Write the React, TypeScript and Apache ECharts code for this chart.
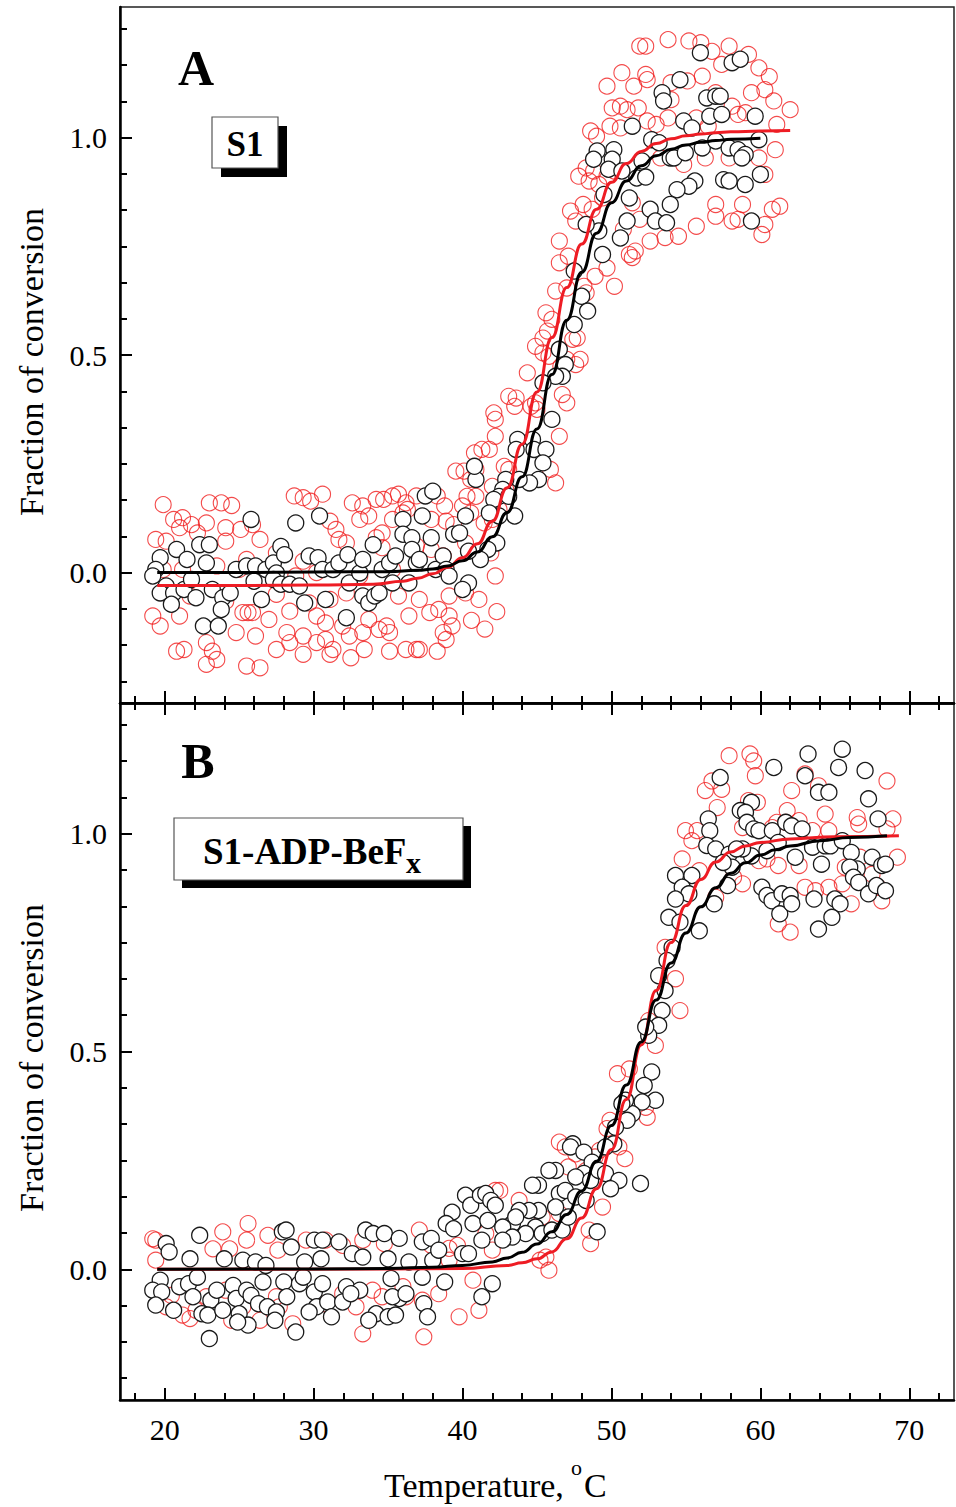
import React, { useEffect, useRef } from "react";
import * as echarts from "echarts";

const FONT = '"Liberation Serif", "Times New Roman", serif';

// Axis ticks
const tempTicks = [20, 30, 40, 50, 60, 70];
const tempMinorTicks = [18, 22, 24, 26, 28, 32, 34, 36, 38, 42, 44, 46, 48, 52, 54, 56, 58, 62, 64, 66, 68, 72];
const fracTicks = [0, 0.5, 1.0];
const fracMinorTicks = [-3, -2, -1, 1, 2, 3, 4, 5, 7, 8, 9, 10, 11, 13, 14, 15].map((k) => k / 12);

// Panel A (S1) - red circles
const aRedPts: [number, number][] = [
  [19.9, 0.156], [23.0, 0.16], [23.8, 0.16], [24.5, 0.154], [28.7, 0.176], [29.3, 0.172], [29.8, 0.164], [30.6, 0.18], [32.6, 0.16], [33.3, 0.153], [34.2, 0.168], [34.7, 0.168], [35.3, 0.176], [35.7, 0.18], [36.2, 0.16], [36.9, 0.176], [38.3, 0.176], [38.8, 0.153],
  [20.6, 0.122], [21.2, 0.126], [21.8, 0.11], [22.8, 0.114], [21.0, 0.103], [22.2, 0.091], [24.1, 0.103], [25.1, 0.099], [25.9, 0.11], [31.1, 0.118], [31.5, 0.099], [33.1, 0.122], [33.7, 0.13], [34.6, 0.091], [35.3, 0.122], [36.0, 0.137], [36.3, 0.145], [37.9, 0.122], [38.9, 0.118], [39.4, 0.11],
  [19.4, 0.076], [20.1, 0.072], [26.4, 0.076], [24.1, 0.072], [27.5, 0.045], [31.7, 0.076], [32.2, 0.068], [34.2, 0.08], [34.6, 0.057], [36.9, 0.061], [37.9, 0.053], [38.7, 0.038], [29.3, 0.026], [25.5, 0.03],
  [19.9, 0.007], [21.2, 0.007], [23.5, 0.015], [25.0, 0.007], [30.2, 0.0], [28.8, -0.008], [35.3, 0.007], [33.1, -0.008],
  [21.7, -0.054], [24.1, -0.066], [27.5, -0.05], [29.7, -0.07], [31.1, -0.062], [32.2, -0.047], [35.7, -0.054], [37.1, -0.062], [39.1, -0.054],
  [19.2, -0.1], [21.0, -0.1], [25.25, -0.092], [25.6, -0.092], [25.9, -0.092], [27.0, -0.108], [28.4, -0.089], [30.2, -0.1], [30.8, -0.116], [33.7, -0.108], [34.9, -0.123], [36.4, -0.1], [37.8, -0.092], [38.4, -0.085], [39.1, -0.1],
  [19.7, -0.123], [22.8, -0.161], [24.8, -0.138], [26.1, -0.146], [28.2, -0.138], [29.3, -0.146], [30.2, -0.161], [30.8, -0.154], [31.3, -0.177], [31.95, -0.123], [32.4, -0.146], [33.3, -0.138], [34.4, -0.131], [35.1, -0.138], [36.2, -0.177], [37.1, -0.177], [38.7, -0.138], [39.3, -0.123],
  [20.8, -0.181], [21.3, -0.177], [23.2, -0.181], [23.5, -0.2], [22.8, -0.211], [25.5, -0.215], [26.4, -0.219], [27.5, -0.177], [28.4, -0.161], [29.3, -0.188], [31.1, -0.188], [32.5, -0.196], [33.4, -0.177], [35.1, -0.181], [36.9, -0.177], [38.3, -0.181], [38.9, -0.154],
  [46.5, 0.712], [47.1, 0.727], [46.25, 0.647], [47.0, 0.654], [48.15, 0.658], [48.9, 0.681], [49.7, 0.7], [50.2, 0.658], [48.3, 0.643], [45.6, 0.597], [46.0, 0.582], [45.7, 0.555], [45.4, 0.539], [44.9, 0.52], [45.4, 0.505], [45.8, 0.497], [47.4, 0.536], [47.7, 0.539], [47.9, 0.49], [47.6, 0.478], [47.0, 0.49], [44.35, 0.459], [46.6, 0.474],
  [43.1, 0.405], [43.6, 0.401], [43.5, 0.382], [44.9, 0.39], [44.6, 0.382], [45.0, 0.375], [46.7, 0.409], [47.0, 0.39], [42.1, 0.367], [42.2, 0.352], [42.2, 0.313], [46.5, 0.313], [40.8, 0.275], [41.3, 0.283], [41.8, 0.283], [42.8, 0.244], [39.55, 0.233], [40.1, 0.233], [40.9, 0.237], [40.55, 0.214], [40.3, 0.175], [40.9, 0.175], [42.0, 0.198], [42.9, 0.191], [43.1, 0.237], [45.9, 0.237], [46.25, 0.206],
  [40.0, 0.153], [40.55, 0.137], [42.0, 0.122], [42.45, 0.145], [41.45, 0.114], [40.2, 0.068], [41.9, 0.045], [42.2, -0.008], [41.1, -0.062], [40.2, -0.047], [40.6, -0.11], [41.5, -0.13], [42.3, -0.09],
  [51.9, 1.21], [52.3, 1.21], [53.8, 1.225], [55.2, 1.222], [56.0, 1.218], [56.75, 1.198], [57.9, 1.21], [57.4, 1.168], [59.2, 1.191], [59.9, 1.16], [50.7, 1.149], [49.7, 1.118], [51.5, 1.118], [52.3, 1.145], [52.4, 1.133], [54.0, 1.126], [54.0, 1.087], [55.1, 1.13], [56.1, 1.141], [57.0, 1.103], [59.4, 1.103], [60.3, 1.11], [60.9, 1.084], [62.0, 1.064], [60.6, 1.14],
  [50.05, 1.068], [50.6, 1.072], [51.05, 1.064], [51.8, 1.068], [49.9, 1.026], [50.6, 1.022], [52.4, 1.038], [53.0, 1.03], [53.8, 1.045], [55.7, 1.045], [56.5, 1.026], [58.1, 1.072], [58.5, 1.053], [59.0, 1.057], [61.1, 1.03], [48.6, 1.015], [49.0, 1.003],
  [48.3, 0.93], [48.8, 0.923], [48.5, 0.9], [49.15, 0.892], [49.7, 0.911], [50.2, 0.923], [47.8, 0.911], [47.25, 0.831], [47.6, 0.808], [48.1, 0.846], [48.7, 0.835], [49.4, 0.861], [51.4, 0.85], [51.9, 0.812], [52.6, 0.762], [51.6, 0.739], [51.2, 0.731],
  [53.3, 0.953], [54.85, 0.938], [56.3, 0.953], [57.9, 0.953], [58.9, 0.961], [59.9, 0.953], [61.0, 0.972], [60.3, 0.915], [58.8, 0.846], [57.0, 0.846], [57.0, 0.819], [55.7, 0.796], [54.5, 0.773], [53.6, 0.77], [50.8, 0.789], [58.1, 0.808], [58.5, 0.812], [60.1, 0.777], [60.3, 0.8], [60.8, 0.835], [61.3, 0.842], [46.5, 0.762], [51.4, 0.724],
];

// Panel A (S1) - black circles
const aBlackPts: [number, number][] = [
  [19.7, 0.034], [19.4, 0.007], [19.2, -0.008], [20.8, 0.053], [21.5, 0.03], [22.35, 0.064], [23.0, 0.064], [22.8, 0.022], [20.1, -0.031], [19.7, -0.047], [20.6, -0.047], [20.45, -0.073], [21.3, -0.039], [22.1, -0.058], [21.8, -0.016], [22.6, -0.123], [23.6, -0.123], [23.2, -0.039], [23.9, -0.058], [24.4, -0.047], [23.8, -0.085],
  [24.8, 0.007], [25.5, 0.015], [25.8, 0.122], [26.1, 0.015], [26.8, 0.007], [27.3, 0.022], [27.5, -0.001], [27.8, 0.06], [28.05, 0.041], [26.0, -0.02], [26.5, -0.062], [27.3, -0.016], [27.8, -0.027], [28.4, -0.027], [28.8, 0.114], [29.05, -0.031], [29.4, -0.07], [29.7, 0.038], [30.3, 0.034], [30.4, 0.13], [30.6, 0.007], [30.8, -0.062],
  [31.3, 0.007], [31.7, 0.022], [32.3, 0.041], [32.2, -0.104], [32.4, -0.024], [33.1, -0.001], [33.3, 0.03], [33.3, -0.054], [33.7, -0.07], [34.1, -0.054], [34.4, -0.047], [34.0, 0.064], [34.6, 0.007], [35.1, 0.022], [35.3, -0.024], [35.5, 0.038], [36.0, 0.122], [36.0, 0.088], [36.6, 0.08], [36.6, 0.053], [36.9, 0.022], [36.4, -0.024], [37.1, 0.03], [37.3, 0.13], [37.5, 0.176], [38.0, 0.187], [37.9, 0.08], [38.2, 0.007], [38.7, 0.038], [38.9, 0.007], [39.1, -0.008], [39.4, 0.088],
  [47.5, 0.693], [48.0, 0.635], [48.4, 0.601], [47.5, 0.57], [46.5, 0.513], [46.9, 0.478], [46.7, 0.451], [46.25, 0.451], [45.4, 0.436], [46.0, 0.352], [43.7, 0.306], [43.6, 0.283], [44.7, 0.306], [44.8, 0.283], [45.6, 0.283], [45.4, 0.252], [45.1, 0.214], [44.5, 0.206], [43.8, 0.214], [42.9, 0.214], [42.7, 0.191], [42.45, 0.175], [42.1, 0.168], [43.1, 0.175], [43.5, 0.13], [42.45, 0.13], [41.8, 0.137],
  [42.3, 0.068], [41.7, 0.053], [41.2, 0.03], [40.4, 0.049], [40.4, -0.024], [40.0, -0.039], [40.9, 0.214], [40.8, 0.244], [40.2, 0.13], [39.8, 0.091],
  [55.97, 1.195], [58.1, 1.172], [58.65, 1.18], [54.6, 1.133], [53.4, 1.103], [53.5, 1.084], [56.4, 1.091], [57.0, 1.095], [57.3, 1.095], [56.6, 1.049], [57.4, 1.053], [59.65, 1.049], [54.85, 1.038], [55.4, 1.022], [51.4, 1.026], [52.7, 0.995], [53.2, 0.988],
  [49.04, 0.969], [48.8, 0.95], [50.16, 0.972], [50.05, 0.95], [49.8, 0.927], [50.7, 0.923], [52.05, 0.946], [51.7, 0.907], [52.3, 0.909], [53.95, 0.953], [54.2, 0.953], [54.96, 0.965], [56.1, 0.976], [57.0, 0.992], [57.9, 0.976], [58.5, 0.972], [58.98, 0.961], [58.76, 0.953], [59.9, 0.995], [60.0, 0.915],
  [57.53, 0.903], [57.9, 0.9], [55.6, 0.9], [55.2, 0.888], [54.4, 0.88], [53.95, 0.846], [52.6, 0.835], [52.95, 0.808], [53.7, 0.804], [51.2, 0.861], [51.05, 0.808], [50.6, 0.769], [49.4, 0.731], [49.15, 0.785], [49.5, 0.869], [48.3, 0.8], [59.4, 0.808], [58.98, 0.892],
];

// Panel A fitted curves
const aBlackFit: [number, number][] = [
  [19.5, 0], [25, 0], [30, 0.001], [35, 0.002], [37, 0.005], [38, 0.008], [39, 0.015], [40, 0.027], [41, 0.047], [42, 0.082], [43, 0.138], [44, 0.22], [45, 0.33], [46, 0.455], [47, 0.58], [48, 0.69], [49, 0.78], [50, 0.85], [51, 0.9], [52, 0.935], [53, 0.958], [54, 0.973], [55, 0.983], [56, 0.989], [57, 0.993], [58, 0.996], [60, 0.998],
];
const aRedFit: [number, number][] = [
  [19.5, -0.03], [25, -0.03], [30, -0.029], [34, -0.027], [36, -0.02], [37, -0.013], [38, -0.003], [39, 0.012], [40, 0.034], [41, 0.066], [42, 0.118], [43, 0.195], [44, 0.295], [45, 0.415], [46, 0.54], [47, 0.655], [48, 0.755], [49, 0.835], [50, 0.897], [51, 0.94], [52, 0.968], [53, 0.986], [54, 0.997], [55, 1.004], [56, 1.008], [57, 1.011], [58, 1.013], [60, 1.015], [62, 1.016],
];

// Panel B (S1-ADP-BeFx) - red circles
const bRedPts: [number, number][] = [
  [19.2, 0.07], [19.4, 0.067], [19.4, 0.021], [23.24, 0.047], [23.9, 0.086], [25.6, 0.105], [25.5, 0.067], [24.36, 0.047], [26.93, 0.078], [27.6, 0.044], [29.5, 0.067], [30.8, 0.067], [31.95, 0.055], [33.3, 0.067], [34.75, 0.059], [37.1, 0.09], [37.9, 0.055], [39.1, 0.048], [39.66, 0.055], [42.0, 0.044], [42.2, 0.181],
  [24.1, -0.048], [22.8, -0.063], [22.1, -0.094], [21.2, -0.105], [21.7, -0.113], [24.5, -0.117], [27.5, -0.063], [28.6, -0.125], [27.7, -0.086], [30.8, -0.079], [31.95, -0.056], [32.85, -0.086], [33.3, -0.148], [33.96, -0.048], [34.6, -0.063], [36.0, -0.04], [36.2, -0.063], [37.3, -0.071], [38.4, -0.056], [39.77, -0.109], [37.4, -0.155], [41.1, -0.094], [40.7, -0.025], [41.56, 0.082], [39.1, 0.021], [25.25, -0.086], [26.4, -0.117], [20.45, -0.06], [20.1, -0.086],
  [53.6, 0.739], [54.3, 0.667], [54.6, 0.594], [52.5, 0.571], [52.95, 0.514], [50.4, 0.449], [51.2, 0.46], [52.3, 0.372], [52.4, 0.349], [49.9, 0.342], [49.7, 0.323], [50.9, 0.254], [50.5, 0.281], [46.5, 0.292], [46.9, 0.281], [47.6, 0.265], [47.1, 0.235], [48.3, 0.227], [48.9, 0.258], [49.2, 0.273], [49.4, 0.143], [48.5, 0.09], [48.6, 0.059], [45.6, 0.028], [45.8, -0.002], [45.2, 0.021], [43.8, 0.158], [42.5, 0.181], [45.35, 0.12], [46.5, 0.128],
  [57.9, 1.179], [59.3, 1.183], [59.55, 1.167], [59.66, 1.133], [56.3, 1.099], [56.75, 1.121], [57.4, 1.102], [57.1, 1.06], [59.2, 1.076], [59.8, 1.072], [62.1, 1.099], [63.0, 1.137], [63.9, 1.11], [64.35, 1.045], [61.8, 1.053], [61.1, 1.026], [61.7, 1.026], [62.6, 1.03], [60.8, 1.014], [54.97, 1.007], [55.75, 1.007], [55.4, 0.984], [54.75, 0.942], [58.8, 1.014], [63.5, 1.007], [64.6, 1.007], [66.5, 1.037], [66.6, 1.022], [68.5, 1.121], [68.9, 1.034], [68.5, 1.011],
  [60.44, 0.942], [61.2, 0.927], [62.6, 0.927], [59.9, 0.938], [65.7, 0.923], [66.7, 0.946], [67.5, 0.907], [67.9, 0.877], [69.2, 0.946], [65.5, 0.885], [64.6, 0.877], [63.0, 0.877], [63.7, 0.869], [58.2, 0.9], [58.8, 0.885], [61.2, 0.793], [62.0, 0.774], [66.1, 0.839], [68.15, 0.846], [57.0, 0.854], [55.9, 0.915],
];

// Panel B (S1-ADP-BeFx) - black circles
const bBlackPts: [number, number][] = [
  [20.1, 0.059], [20.3, 0.04], [22.35, 0.078], [21.7, 0.024], [24.0, 0.024], [25.25, 0.021], [26.1, 0.017], [26.8, 0.009], [27.9, 0.086], [28.15, 0.09], [28.5, 0.051], [29.4, 0.017], [30.05, 0.067], [30.5, 0.024], [30.6, 0.067], [31.7, 0.063], [32.6, 0.036], [33.3, 0.028], [33.5, 0.09], [34.0, 0.082], [34.75, 0.082], [35.75, 0.071], [35.0, 0.024], [36.4, 0.017], [37.3, 0.063], [37.9, 0.071], [38.0, 0.021], [38.4, 0.044],
  [39.3, 0.131], [40.2, 0.17], [40.55, 0.147], [41.2, 0.17], [41.56, 0.174], [41.9, 0.158], [42.2, 0.147], [38.9, 0.105], [39.4, 0.093], [40.7, 0.105], [41.7, 0.112], [40.0, 0.036], [40.4, 0.036], [41.3, 0.067],
  [19.7, -0.025], [19.2, -0.048], [19.8, -0.052], [19.4, -0.082], [20.6, -0.094], [21.0, -0.04], [21.6, -0.033], [22.2, -0.018], [21.9, -0.063], [23.1, -0.071], [22.5, -0.102], [22.9, -0.105], [23.9, -0.094], [23.5, -0.048], [24.6, -0.037], [24.8, -0.067], [25.5, -0.048], [25.8, -0.06], [26.3, -0.079], [26.6, -0.029], [25.0, -0.102], [25.6, -0.128], [24.9, -0.121], [26.9, -0.086], [27.5, -0.098], [27.4, -0.117],
  [28.0, -0.029], [28.2, -0.063], [29.05, -0.033], [29.3, -0.018], [30.05, -0.052], [30.6, -0.033], [30.2, -0.086], [29.7, -0.098], [30.95, -0.075], [31.2, -0.109], [32.2, -0.04], [33.1, -0.048], [31.95, -0.075], [32.5, -0.056], [34.2, -0.102], [33.7, -0.117], [35.0, -0.109], [35.5, -0.105], [35.75, -0.067], [35.3, -0.063], [36.2, -0.056], [37.4, -0.079], [37.65, -0.109], [35.2, -0.021], [37.3, -0.018], [38.8, -0.029], [41.3, -0.063], [42.0, -0.033], [28.8, -0.144], [23.0, -0.159],
  [54.07, 0.739], [53.73, 0.709], [53.17, 0.674], [53.6, 0.64], [53.4, 0.594], [53.17, 0.56], [52.5, 0.537], [52.3, 0.556], [52.7, 0.453], [52.2, 0.422], [52.95, 0.388], [52.06, 0.384], [51.4, 0.357], [50.94, 0.388], [50.7, 0.38], [51.05, 0.342], [50.27, 0.326], [50.16, 0.288], [49.6, 0.281], [47.4, 0.288], [47.25, 0.281], [48.15, 0.269], [48.7, 0.246], [48.15, 0.22], [47.6, 0.212], [48.6, 0.204], [49.15, 0.227], [49.6, 0.22], [50.5, 0.204], [49.94, 0.185], [51.95, 0.197],
  [46.25, 0.227], [45.8, 0.227], [45.1, 0.193], [44.7, 0.193], [46.5, 0.174], [46.9, 0.181], [47.6, 0.166], [46.25, 0.143], [45.1, 0.135], [44.46, 0.135], [43.8, 0.135], [43.35, 0.105], [43.57, 0.12], [42.7, 0.097], [44.9, 0.097], [44.24, 0.082], [43.35, 0.074], [42.7, 0.067], [45.35, 0.082], [46.0, 0.09], [46.7, 0.09], [47.1, 0.12], [48.3, 0.158], [49.04, 0.086],
  [65.5, 1.194], [63.2, 1.183], [60.9, 1.152], [65.25, 1.152], [63.0, 1.133], [63.9, 1.095], [64.6, 1.095], [67.03, 1.145], [67.26, 1.08], [57.3, 1.129], [59.4, 1.072], [58.65, 1.053], [59.0, 1.049], [56.5, 1.034], [56.6, 1.007], [56.4, 0.973], [57.0, 0.965], [59.1, 1.026], [59.55, 1.011], [59.9, 1.007], [60.8, 1.007], [61.7, 1.026], [62.1, 1.018], [62.8, 1.011], [61.2, 0.98], [60.44, 0.961],
  [59.4, 0.949], [58.8, 0.965], [57.9, 0.953], [58.4, 0.965], [62.34, 0.946], [63.5, 0.969], [64.35, 0.972], [64.7, 0.972], [65.5, 0.984], [66.1, 0.957], [67.5, 0.946], [68.15, 0.927], [67.9, 1.034], [66.5, 0.919], [66.0, 0.923], [64.1, 0.93], [58.1, 0.923], [57.5, 0.934],
  [54.3, 0.904], [55.4, 0.904], [54.75, 0.877], [55.2, 0.862], [54.3, 0.85], [53.85, 0.808], [54.6, 0.797], [55.9, 0.777], [56.9, 0.839], [57.8, 0.881], [60.1, 0.877], [60.44, 0.858], [60.78, 0.846], [61.3, 0.816], [61.45, 0.862], [62.0, 0.858], [62.1, 0.839], [63.6, 0.85], [65.0, 0.85], [65.35, 0.839], [64.8, 0.808], [63.9, 0.781], [66.25, 0.9], [66.6, 0.888], [67.26, 0.862], [67.8, 0.881], [68.4, 0.869], [68.4, 0.93],
];

// Panel B fitted curves
const bBlackFit: [number, number][] = [
  [19.5, 0], [30, 0.001], [35, 0.002], [38, 0.005], [40, 0.009], [42, 0.017], [43, 0.026], [44, 0.039], [45, 0.058], [46, 0.086], [47, 0.126], [48, 0.18], [49, 0.248], [50, 0.33], [51, 0.423], [52, 0.522], [53, 0.618], [54, 0.703], [55, 0.772], [56, 0.832], [57, 0.876], [58, 0.909], [59, 0.933], [60, 0.951], [61, 0.963], [62, 0.972], [64, 0.984], [66, 0.991], [68.5, 0.995],
];
const bRedFit: [number, number][] = [
  [19.5, 0], [35, 0.001], [40, 0.002], [43, 0.009], [44, 0.015], [45, 0.024], [46, 0.04], [47, 0.07], [48, 0.118], [49, 0.185], [50, 0.275], [51, 0.39], [52, 0.515], [53, 0.64], [54, 0.75], [55, 0.835], [56, 0.895], [57, 0.935], [58, 0.958], [59, 0.972], [60, 0.98], [62, 0.988], [65, 0.993], [69.3, 0.995],
];

const RED = "#ee1c24";
const BLACK = "#000000";

function xAxes(grid: number, withLabels: boolean, withTop: boolean) {
  const base = {
    gridIndex: grid,
    type: "value",
    min: 17,
    max: 73,
    splitLine: { show: false },
  };
  const axes: any[] = [
    {
      ...base,
      position: "bottom",
      axisLine: { show: true, onZero: false, lineStyle: { color: "#000", width: 2.5 } },
      axisTick: { show: true, inside: true, length: 12, customValues: tempTicks, lineStyle: { color: "#000", width: 2 } },
      axisLabel: withLabels
        ? { show: true, customValues: tempTicks, fontFamily: FONT, fontSize: 30, color: "#000", margin: 14 }
        : { show: false },
    },
    {
      ...base,
      position: "bottom",
      axisLine: { show: false, onZero: false },
      axisTick: { show: true, inside: true, length: 7, customValues: tempMinorTicks, lineStyle: { color: "#000", width: 2 } },
      axisLabel: { show: false },
    },
  ];
  if (withTop) {
    axes.push(
      {
        ...base,
        position: "top",
        axisLine: { show: true, onZero: false, lineStyle: { color: "#000", width: 2.5 } },
        axisTick: { show: true, inside: true, length: 12, customValues: tempTicks, lineStyle: { color: "#000", width: 2 } },
        axisLabel: { show: false },
      },
      {
        ...base,
        position: "top",
        axisLine: { show: false, onZero: false },
        axisTick: { show: true, inside: true, length: 7, customValues: tempMinorTicks, lineStyle: { color: "#000", width: 2 } },
        axisLabel: { show: false },
      }
    );
  }
  return axes;
}

function yAxes(grid: number) {
  const base = {
    gridIndex: grid,
    type: "value",
    min: -0.3,
    max: 1.3,
    position: "left",
    splitLine: { show: false },
  };
  return [
    {
      ...base,
      axisLine: { show: true, onZero: false, lineStyle: { color: "#000", width: 2.5 } },
      axisTick: { show: true, inside: true, length: 12, customValues: fracTicks, lineStyle: { color: "#000", width: 2 } },
      axisLabel: {
        show: true,
        customValues: fracTicks,
        formatter: (v: number) => v.toFixed(1),
        fontFamily: FONT,
        fontSize: 30,
        color: "#000",
        margin: 13,
      },
    },
    {
      ...base,
      axisLine: { show: false, onZero: false },
      axisTick: { show: true, inside: true, length: 7, customValues: fracMinorTicks, lineStyle: { color: "#000", width: 2 } },
      axisLabel: { show: false },
    },
  ];
}

function scatter(data: [number, number][], xi: number, yi: number, black: boolean) {
  return {
    type: "scatter",
    xAxisIndex: xi,
    yAxisIndex: yi,
    data,
    symbol: "circle",
    symbolSize: 16,
    silent: true,
    z: 2,
    itemStyle: black
      ? { color: "#ffffff", borderColor: "#1a1a1a", borderWidth: 1.3, opacity: 1 }
      : { color: "rgba(255,255,255,0)", borderColor: "#f01e1e", borderWidth: 1.1 },
  };
}

function fitLine(data: [number, number][], xi: number, yi: number, color: string) {
  return {
    type: "line",
    xAxisIndex: xi,
    yAxisIndex: yi,
    data,
    showSymbol: false,
    symbol: "none",
    smooth: 0.5,
    smoothMonotone: "x",
    silent: true,
    z: 3,
    lineStyle: { color, width: 3 },
  };
}

function labelBox(x: number, y: number, w: number, h: number, off: number) {
  return [
    { type: "rect", shape: { x: x + off, y: y + off, width: w, height: h }, style: { fill: "#000" }, z: 10 },
    { type: "rect", shape: { x, y, width: w, height: h }, style: { fill: "#fff", stroke: "#555", lineWidth: 1.2 }, z: 11 },
  ];
}

function txt(text: string, x: number, y: number, size: number, opts: any = {}) {
  const align = opts.align || "center";
  return {
    type: "text",
    x,
    y,
    rotation: opts.rotation || 0,
    z: 12,
    style: {
      text,
      fill: "#000",
      fontFamily: FONT,
      fontSize: size,
      fontWeight: opts.bold ? "bold" : "normal",
      align,
      textAlign: align,
      verticalAlign: "middle",
      textVerticalAlign: "middle",
    },
  };
}

export default function App() {
  const ref = useRef<HTMLDivElement>(null);
  useEffect(() => {
    if (!ref.current) return;
    const chart = echarts.init(ref.current, undefined, { renderer: "svg" });
    const option: any = {
      animation: false,
      backgroundColor: "#ffffff",
      grid: [
        { left: 120, top: 7, width: 834, height: 696, show: true, borderColor: "#222", borderWidth: 1.5, backgroundColor: "transparent" },
        { left: 120, top: 703, width: 834, height: 697, show: true, borderColor: "#222", borderWidth: 1.5, backgroundColor: "transparent" },
      ],
      xAxis: [...xAxes(0, false, false), ...xAxes(1, true, true)],
      yAxis: [...yAxes(0), ...yAxes(1)],
      series: [
        scatter(aRedPts, 0, 0, false),
        scatter(aBlackPts, 0, 0, true),
        fitLine(aRedFit, 0, 0, RED),
        fitLine(aBlackFit, 0, 0, BLACK),
        scatter(bRedPts, 2, 2, false),
        scatter(bBlackPts, 2, 2, true),
        fitLine(bRedFit, 2, 2, RED),
        fitLine(bBlackFit, 2, 2, BLACK),
      ],
      graphic: [
        txt("A", 196, 68, 50, { bold: true }),
        ...labelBox(212, 117, 66, 51, 9),
        txt("S1", 245, 144, 35, { bold: true }),
        txt("B", 198, 761, 50, { bold: true }),
        ...labelBox(174, 818, 289, 62, 8),
        txt("S1-ADP-BeF", 203, 851, 37, { bold: true, align: "left" }),
        txt("x", 406, 862, 30, { bold: true, align: "left" }),
        txt("Fraction of conversion", 31, 362, 34, { rotation: Math.PI / 2 }),
        txt("Fraction of conversion", 31, 1058, 34, { rotation: Math.PI / 2 }),
        txt("Temperature,", 384, 1485, 34, { align: "left" }),
        txt("o", 571, 1467, 22, { align: "left" }),
        txt("C", 584, 1485, 34, { align: "left" }),
      ],
    };
    chart.setOption(option);
    return () => chart.dispose();
  }, []);
  return (
    <div
      ref={ref}
      style={{ position: "absolute", left: 0, top: 0, width: 956, height: 1507, background: "#fff" }}
    />
  );
}
